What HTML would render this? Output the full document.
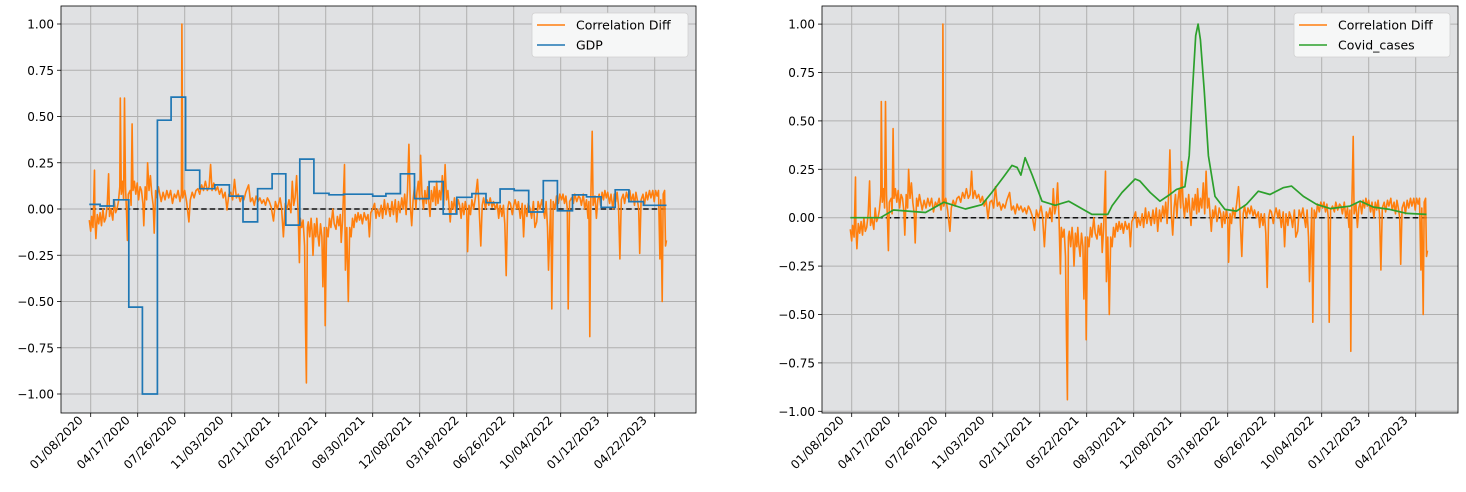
<!DOCTYPE html>
<html><head><meta charset="utf-8">
<style>
body{margin:0;background:#fff;}
svg{display:block;font-family:"DejaVu Sans","Liberation Sans",sans-serif;}
</style></head>
<body>
<svg id="chart" width="1466" height="492" viewBox="0 0 1466 492" xmlns="http://www.w3.org/2000/svg"></svg>
<script>
const xTickLabels=["01/08/2020","04/17/2020","07/26/2020","11/03/2020","02/11/2021","05/22/2021","08/30/2021","12/08/2021","03/18/2022","06/26/2022","10/04/2022","01/12/2023","04/22/2023"];
const xTickDays=[0,100,200,300,400,500,600,700,800,900,1000,1100,1200];
const yTicks=[-1,-0.75,-0.5,-0.25,0,0.25,0.5,0.75,1];
const corrDays=[-3,0,2,5,8,9,11,14,17,20,23,26,29,32,35,38,40,43,47,50,53,56,59,62,63,65,68,70,72,74,76,78,80,84,86,88,90,93,96,99,102,105,108,111,113,116,119,121,124,127,130,133,135,138,141,144,147,150,154,158,162,166,170,174,178,182,186,190,193,194,196,200,204,209,212,216,220,224,228,232,236,240,244,248,252,255,258,262,266,270,274,278,282,286,290,294,298,302,306,310,314,318,322,326,330,336,340,344,348,352,356,360,364,368,372,376,380,384,389,393,397,403,406,410,414,418,422,426,429,432,435,438,441,444,446,449,452,455,457,459,461,463,466,469,471,473,476,479,481,483,486,489,492,494,497,499,502,505,508,511,515,518,522,525,528,531,533,536,540,542,545,548,551,554,557,560,563,566,569,572,575,578,582,586,590,593,596,600,604,607,610,614,618,621,625,628,632,637,641,644,648,651,655,658,662,665,668,671,674,677,680,683,686,689,692,694,697,700,702,705,708,711,714,717,720,722,725,728,731,734,736,739,742,745,748,751,754,757,760,763,765,768,771,774,777,779,782,785,788,791,794,797,800,802,805,808,811,815,819,823,826,830,833,836,840,843,847,850,854,857,861,865,868,871,875,878,881,884,887,890,893,897,900,903,907,910,914,918,921,924,928,931,935,938,942,945,949,952,956,960,963,966,969,972,974,977,979,981,984,988,991,995,998,1002,1005,1008,1011,1014,1016,1019,1023,1027,1030,1034,1038,1041,1044,1048,1051,1055,1058,1060,1062,1064,1067,1069,1073,1076,1079,1082,1085,1088,1091,1094,1097,1100,1104,1107,1111,1114,1117,1120,1123,1126,1129,1133,1136,1140,1143,1147,1150,1154,1157,1160,1163,1166,1168,1171,1175,1178,1182,1185,1189,1192,1196,1199,1202,1205,1208,1211,1213,1216,1218,1221,1223,1225];
const corrVals=[-0.06,-0.12,-0.04,-0.1,0.21,-0.05,-0.16,-0.03,-0.08,-0.02,-0.09,0.0,-0.07,-0.05,0.02,0.19,-0.04,0.0,-0.06,0.05,-0.02,0.0,0.04,0.12,0.6,0.08,0.15,0.05,0.6,0.12,0.0,-0.17,0.08,0.1,0.02,0.46,0.1,0.15,0.08,0.14,0.05,0.12,0.1,0.03,-0.09,0.12,0.05,0.25,0.1,0.18,0.08,0.02,-0.13,0.1,0.06,0.12,0.08,0.04,0.09,0.05,0.1,0.06,0.1,0.03,0.08,0.06,0.1,0.04,0.08,1.0,0.06,0.1,0.04,-0.07,0.05,0.09,0.06,0.1,0.11,0.08,0.13,0.1,0.15,0.1,0.12,0.24,0.1,0.14,0.1,0.12,0.08,0.11,0.06,0.09,-0.005,0.08,0.09,0.05,0.16,0.06,0.08,0.04,0.07,0.05,0.09,0.13,0.04,0.06,0.02,0.07,0.04,0.06,0.03,0.05,0.02,0.06,0.04,0.01,-0.065,0.04,0.0,0.06,0.01,-0.15,0.03,0.0,0.05,-0.02,0.15,0.02,0.06,0.18,0.0,-0.29,-0.05,-0.1,-0.06,-0.2,-0.63,-0.94,-0.1,-0.07,-0.15,-0.05,-0.12,-0.25,-0.08,-0.15,-0.05,-0.13,-0.2,-0.08,-0.15,-0.42,-0.1,-0.63,-0.1,-0.15,-0.05,-0.1,0.0,-0.08,-0.11,-0.04,-0.09,-0.03,-0.18,-0.06,0.24,-0.33,-0.1,-0.5,-0.1,-0.15,-0.05,-0.1,-0.03,-0.07,-0.02,-0.06,-0.03,-0.08,-0.02,-0.06,-0.03,-0.15,-0.02,0.0,0.03,-0.05,0.0,-0.04,0.02,-0.05,0.05,-0.03,0.03,-0.04,0.04,-0.03,0.05,-0.07,0.04,-0.02,0.06,0.0,0.08,-0.03,0.1,0.35,0.02,-0.09,0.05,0.12,0.0,0.09,0.15,0.05,0.29,0.08,0.0,0.1,0.03,0.12,0.02,-0.04,0.1,0.04,0.12,0.02,0.15,0.03,0.1,0.05,0.18,0.02,0.24,0.05,0.1,0.0,-0.07,0.04,0.0,0.06,-0.02,0.0,0.05,0.02,-0.05,0.03,-0.03,0.04,0.0,-0.23,0.02,-0.03,0.05,0.0,0.07,0.16,0.03,-0.2,0.02,0.06,0.0,0.05,0.02,0.06,0.01,0.04,0.0,0.03,-0.05,0.02,-0.04,0.02,-0.08,-0.36,0.0,0.04,0.03,-0.03,0.02,0.05,0.0,0.04,-0.05,0.03,-0.15,0.02,-0.04,0.03,0.0,-0.05,0.04,-0.1,-0.07,0.04,0.0,0.05,0.0,-0.05,0.04,-0.1,-0.33,-0.1,0.05,-0.54,0.04,0.0,0.07,0.03,0.08,0.05,0.08,0.03,0.07,0.0,-0.54,0.04,0.06,0.03,0.08,0.04,0.07,0.06,0.02,0.08,0.0,0.05,-0.05,0.04,-0.69,0.05,0.42,0.02,0.07,-0.05,0.05,0.08,0.02,0.09,0.05,0.1,0.06,0.09,0.03,0.08,0.0,0.08,0.04,0.09,0.02,-0.27,0.05,0.08,0.03,0.09,0.06,0.1,0.04,0.08,0.02,0.09,0.05,0.0,-0.24,0.05,0.08,0.02,0.09,0.05,0.1,0.06,0.1,0.04,0.1,0.07,0.1,-0.27,0.05,-0.5,0.08,0.1,-0.2,-0.17];
const gdpDays=[-3,20,49,81,110,142,171,202,232,264,295,324,355,386,415,445,475,507,538,600,628,659,689,720,750,779,811,841,871,901,932,963,993,1025,1055,1086,1116,1145,1176,1225];
const gdpVals=[0.025,0.016,0.05,-0.53,-1.0,0.48,0.605,0.21,0.11,0.13,0.07,-0.07,0.11,0.19,-0.087,0.27,0.085,0.077,0.08,0.07,0.083,0.19,0.056,0.148,-0.027,0.063,0.083,0.034,0.108,0.1,-0.016,0.153,-0.01,0.076,0.066,0.009,0.104,0.04,0.02,0.02];
const covidDays=[-3,61,89,157,196,242,277,298,323,341,352,360,369,384,405,433,462,511,545,554,575,603,613,635,656,677,691,709,718,725,732,737,742,750,759,773,794,819,840,865,890,918,936,961,989,1018,1060,1082,1110,1145,1181,1223];
const covidVals=[0,0,0.04,0.027,0.08,0.045,0.067,0.13,0.21,0.27,0.26,0.22,0.31,0.22,0.085,0.064,0.085,0.017,0.017,0.062,0.13,0.2,0.19,0.13,0.085,0.12,0.146,0.16,0.32,0.66,0.94,1.0,0.92,0.66,0.32,0.11,0.043,0.034,0.069,0.137,0.12,0.155,0.163,0.11,0.069,0.047,0.06,0.086,0.055,0.043,0.022,0.017];

const NS="http://www.w3.org/2000/svg";
const svg=document.getElementById('chart');
function mk(tag,attrs,parent){const e=document.createElementNS(NS,tag);for(const k in attrs)e.setAttribute(k,attrs[k]);(parent||svg).appendChild(e);return e;}

function panel(cfg){
  const g=mk('g',{});
  
  
  const xs=d=>cfg.x0+0.47*d;
  const ys=v=>cfg.y0-cfg.sy*v;
  const bg=mk('rect',{x:cfg.L,y:6,width:cfg.R-cfg.L,height:407,fill:'#e0e1e3'},g);
  
  
  yTicks.forEach(t=>{
    const y=ys(t);
    const gl=mk('line',{x1:cfg.L,x2:cfg.R,y1:y,y2:y,stroke:'#b0b0b0','stroke-width':1},g);
    
    
    mk('line',{x1:cfg.L-4,x2:cfg.L,y1:y,y2:y,stroke:'#000','stroke-width':0.8},g);
    const tx=mk('text',{x:cfg.L-7,y:y+4.5,'text-anchor':'end','font-size':12,fill:'#000'},g);
    tx.textContent=t.toFixed(2).replace('-','\u2212');
    
    
  });
  xTickDays.forEach((d,i)=>{
    const x=xs(d);
    const gl=mk('line',{x1:x,x2:x,y1:6,y2:413,stroke:'#b0b0b0','stroke-width':1},g);
    
    
    mk('line',{x1:x,x2:x,y1:413,y2:417,stroke:'#000','stroke-width':0.8},g);
    const tx=mk('text',{x:x-7,y:421,'text-anchor':'end','font-size':12,fill:'#000',transform:`rotate(-45 ${x-7} 421)`},g);
    tx.textContent=xTickLabels[i];
    
    
  });
  const zl=mk('line',{x1:xs(0),x2:xs(1225),y1:ys(0),y2:ys(0),stroke:'#111','stroke-width':1.5,'stroke-dasharray':'5.5,3'},g);
  
  
  let p='';
  corrDays.forEach((d,i)=>{p+=(i?'L':'M')+xs(d).toFixed(1)+','+ys(corrVals[i]).toFixed(1);});
  const cl=mk('path',{d:p,fill:'none',stroke:'#ff7f0e','stroke-width':1.6,'stroke-linejoin':'round'},g);
  
  
  let q='';
  if(cfg.kind==='gdp'){
    gdpDays.forEach((d,i)=>{
      if(i===0)q+='M'+xs(d).toFixed(1)+','+ys(gdpVals[0]).toFixed(1);
      else q+='H'+xs(d).toFixed(1)+'V'+ys(gdpVals[i]).toFixed(1);
    });
    const sl=mk('path',{d:q,fill:'none',stroke:'#1f77b4','stroke-width':1.7},g);
    
    
  } else {
    covidDays.forEach((d,i)=>{q+=(i?'L':'M')+xs(d).toFixed(1)+','+ys(covidVals[i]).toFixed(1);});
    const sl=mk('path',{d:q,fill:'none',stroke:'#2ca02c','stroke-width':1.7,'stroke-linejoin':'round'},g);
    
    
  }
  const fr=mk('rect',{x:cfg.L,y:6,width:cfg.R-cfg.L,height:407,fill:'none',stroke:'#000','stroke-width':0.8},g);
  
  
  const lg=mk('g',{},g);
  
  
  const lx=cfg.R-8-cfg.lw;
  mk('rect',{x:lx,y:13,width:cfg.lw,height:44,rx:3,fill:'#f6f7f7',stroke:'#d0d0d0','stroke-width':0.8},lg);
  mk('line',{x1:lx+5,x2:lx+33,y1:25,y2:25,stroke:'#ff7f0e','stroke-width':1.6},lg);
  mk('line',{x1:lx+5,x2:lx+33,y1:45,y2:45,stroke:cfg.kind==='gdp'?'#1f77b4':'#2ca02c','stroke-width':1.6},lg);
  const t1=mk('text',{x:lx+44,y:29.5,'font-size':12.5,fill:'#000'},lg);
  t1.textContent='Correlation Diff';
  
  
  const t2=mk('text',{x:lx+44,y:49.5,'font-size':12.5,fill:'#000'},lg);
  t2.textContent=cfg.kind==='gdp'?'GDP':'Covid_cases';
  
  
}
panel({name:'gdp-panel',kind:'gdp',L:61,R:696,x0:90.7,y0:209,sy:185,lw:156});
panel({name:'covid-panel',kind:'covid',L:822,R:1458,x0:851.7,y0:217.7,sy:193.6,lw:156});
</script>
</body></html>
